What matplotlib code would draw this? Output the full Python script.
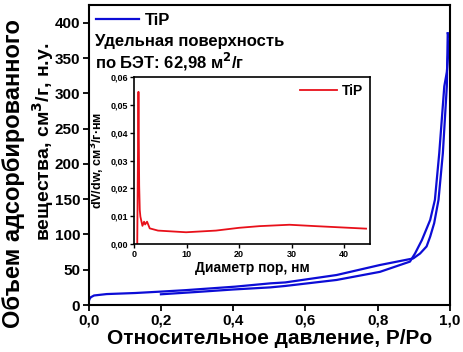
import numpy as np
import matplotlib
matplotlib.use('Agg')
import matplotlib.pyplot as plt
from matplotlib.ticker import FuncFormatter

plt.rcParams['font.family'] = ['Liberation Sans', 'DejaVu Sans']
plt.rcParams['font.weight'] = 'bold'

# Isotherm: adsorption branch (from P/Po = 0)
p_ads = [0.0, 0.002, 0.006, 0.015, 0.05, 0.129, 0.2, 0.267, 0.405, 0.503, 0.544, 0.686,
         0.806, 0.898, 0.917, 0.935, 0.945, 0.956, 0.968, 0.980, 0.991, 0.9935]
v_ads = [4, 8, 11, 13.5, 15.5, 17, 19, 21, 26, 30.7, 32, 42.5,
         56.7, 66, 73, 83, 97, 116, 149, 215, 310, 385]

# Isotherm: desorption branch (back to P/Po = 0.2)
p_des = [0.9935, 0.998, 0.991, 0.984, 0.970, 0.958, 0.945, 0.922, 0.903, 0.889,
         0.806, 0.686, 0.544, 0.503, 0.4, 0.3, 0.2]
v_des = [385, 378, 330, 310, 215, 149, 120.6, 92, 73, 61.5,
         47, 35.5, 27, 25, 22, 18.5, 15.2]

# Pore size distribution
d_pore = [0.6, 0.83, 0.97, 1.08, 1.2, 1.59, 1.9, 2.1, 2.47, 2.98, 4.55, 9.9,
          15.6, 20, 23.9, 29.6, 34.6, 41, 44.2]
dv_dw = [0.0, 0.0547, 0.021, 0.0122, 0.0098, 0.0065, 0.008, 0.007, 0.008, 0.0056,
         0.0048, 0.0042, 0.0048, 0.0058, 0.0064, 0.0069, 0.0064, 0.0058, 0.0055]

blue = '#0c0cd6'
red = '#e8101a'

comma = lambda fmt: FuncFormatter(lambda v, pos: (fmt % v).replace('.', ','))

fig = plt.figure(figsize=(4.64, 3.52), dpi=100)
ax = fig.add_axes([0.191, 0.1335, 0.779, 0.852])

ax.plot(p_ads, v_ads, color=blue, lw=1.6, label='TiP')
ax.plot(p_des, v_des, color=blue, lw=1.6)
ax.set_xlim(0, 1.0)
ax.set_ylim(0, 425)
ax.set_xticks(np.arange(0, 1.01, 0.2))
ax.set_yticks(np.arange(0, 401, 50))
ax.xaxis.set_major_formatter(comma('%.1f'))
ax.tick_params(direction='out', length=4, width=1.3, labelsize=11, pad=2)
for s in ax.spines.values():
    s.set_linewidth(1.5)
ax.set_xlabel('Относительное давление, P/Po', fontsize=15, fontweight='bold', labelpad=1)

leg = ax.legend(loc='upper left', frameon=False, fontsize=12, handlelength=2.6,
                handletextpad=0.3, borderaxespad=0.05, bbox_to_anchor=(0.0, 1.0))
ax.text(0.017, 0.877, 'Удельная поверхность', transform=ax.transAxes,
        fontsize=12, fontweight='bold', va='center')
ax.text(0.017, 0.81, 'по БЭТ: 62,98 м$^2$/г', transform=ax.transAxes,
        fontsize=12, fontweight='bold', va='center')

# two-line y label, lines placed separately as in the original
fig.text(14 / 464, 1 - 174 / 352, 'Объем адсорбированного', rotation=90,
         fontsize=17, fontweight='bold', ha='center', va='center')
fig.text(43 / 464, 1 - 142 / 352, 'вещества, см$^3$/г, н.у.', rotation=90,
         fontsize=14, fontweight='bold', ha='center', va='center')

# Inset with pore size distribution
ins = fig.add_axes([0.289, 0.307, 0.509, 0.474])
ins.plot(d_pore, dv_dw, color=red, lw=1.3, label='TiP')
ins.set_xlim(0, 45)
ins.set_ylim(0, 0.06)
ins.set_xticks([0, 10, 20, 30, 40])
ins.set_yticks(np.arange(0, 0.061, 0.01))
ins.yaxis.set_major_formatter(comma('%.2f'))
ins.tick_params(direction='out', length=3, width=1, labelsize=6.5, pad=1.5)
for s in ins.spines.values():
    s.set_linewidth(1.2)
ins.set_xlabel('Диаметр пор, нм', fontsize=10, fontweight='bold', labelpad=1)
ins.set_ylabel('dV/dw, см$^3$/г·нм', fontsize=9, fontweight='bold', labelpad=2)
ins.legend(loc='upper right', frameon=False, fontsize=10, handlelength=2.6,
           handletextpad=0.4, borderaxespad=0.1)

fig.savefig('out.png', dpi=100)
